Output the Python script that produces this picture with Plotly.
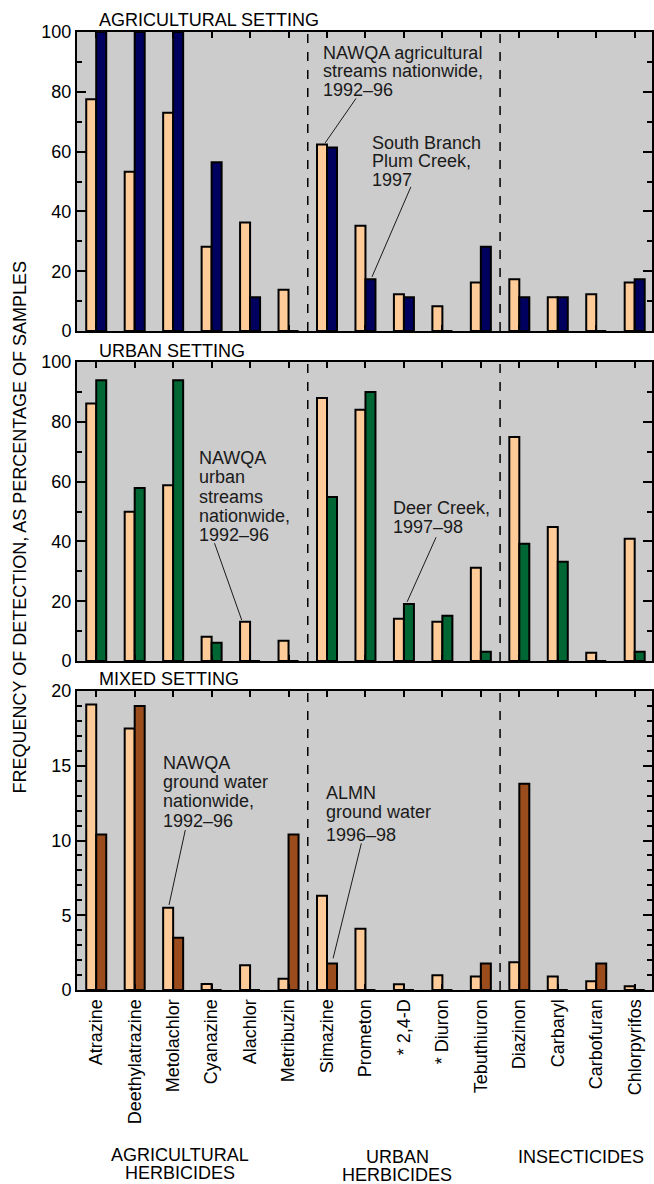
import plotly.graph_objects as go

# ---------------- data ----------------
pesticides = ["Atrazine", "Deethylatrazine", "Metolachlor", "Cyanazine", "Alachlor",
              "Metribuzin", "Simazine", "Prometon", "* 2,4-D", "* Diuron",
              "Tebuthiuron", "Diazinon", "Carbaryl", "Carbofuran", "Chlorpyrifos"]

ag_nawqa = [77.5, 53.3, 73, 28.2, 36.3, 13.8, 62.4, 35.2, 12.3, 8.3, 16.2, 17.3, 11.3, 12.3, 16.2]
ag_plum = [100, 100, 100, 56.4, 11.3, 0, 61.4, 17.3, 11.3, 0, 28.2, 11.3, 11.3, 0, 17.3]

urban_nawqa = [86.1, 49.9, 58.8, 8.1, 13.1, 6.8, 88.0, 84.0, 14.1, 13.1, 31.2, 74.9, 44.8, 2.8, 40.9]
urban_deer = [93.9, 57.9, 93.9, 6.1, 0, 0, 54.9, 90.0, 19.1, 15.1, 3.1, 39.2, 33.2, 0, 3.1]

mixed_nawqa = [19.1, 17.5, 5.5, 0.4, 1.65, 0.76, 6.3, 4.1, 0.38, 0.98, 0.9, 1.85, 0.9, 0.58, 0.25]
mixed_almn = [10.4, 19.0, 3.5, 0, 0, 10.4, 1.78, 0, 0, 0, 1.78, 13.8, 0, 1.78, 0]

panel_titles = ["AGRICULTURAL SETTING", "URBAN SETTING", "MIXED SETTING"]

# ---------------- styles ----------------
TAN = "#FFCC99"
NAVY = "#00005E"
GREEN = "#006633"
BROWN = "#9A4C1C"
BG = "#CCCCCC"
FONT = "Liberation Sans, Arial, Helvetica, sans-serif"
FS = 18
TXT = "#1a1a1a"

fig = go.Figure()

panels = [
    (ag_nawqa, ag_plum, NAVY, "x", "y"),
    (urban_nawqa, urban_deer, GREEN, "x2", "y2"),
    (mixed_nawqa, mixed_almn, BROWN, "x3", "y3"),
]
for nawqa, local, col, xa, ya in panels:
    fig.add_trace(go.Bar(x=pesticides, y=nawqa, xaxis=xa, yaxis=ya,
                         marker=dict(color=TAN, line=dict(color="black", width=2))))
    fig.add_trace(go.Bar(x=pesticides, y=local, xaxis=xa, yaxis=ya,
                         marker=dict(color=col, line=dict(color="black", width=2))))

domains = [[0.6879, 1.0], [0.3434, 0.6555], [0.0, 0.3121]]
yranges = [[0, 100], [0, 100], [0, 20]]
ydticks = [20, 20, 5]
yminor = [10, 10, 1]
XR = [-0.5, 14.45]

layout = dict(
    width=654, height=1184,
    margin=dict(l=77, r=0, t=32, b=194),
    paper_bgcolor="white", plot_bgcolor=BG,
    showlegend=False, barmode="group", bargap=0.48, bargroupgap=0,
    font=dict(family=FONT, size=FS, color="black"),
)

for i in range(3):
    sx = "" if i == 0 else str(i + 1)
    ax_x = dict(
        domain=[0, 1], anchor="y" + sx, type="category",
        categoryorder="array", categoryarray=pesticides,
        range=XR, showline=True, linecolor="black", linewidth=2, mirror="ticks",
        ticks="inside", ticklen=6, tickwidth=2, tickcolor="black",
        showgrid=False, zeroline=False,
        showticklabels=(i == 2), tickangle=-90,
        tickfont=dict(family=FONT, size=FS, color="black"),
    )
    if i < 2:
        ax_x["matches"] = "x3"
    ax_y = dict(
        domain=domains[i], anchor="x" + sx, range=yranges[i], dtick=ydticks[i], tick0=0,
        showline=True, linecolor="black", linewidth=2, mirror="ticks",
        ticks="inside", ticklen=9, tickwidth=2, tickcolor="black",
        minor=dict(ticks="inside", ticklen=5, tickwidth=2, tickcolor="black",
                   dtick=yminor[i], tick0=0),
        showgrid=False, zeroline=False,
        tickfont=dict(family=FONT, size=FS, color="black"),
    )
    layout["xaxis" + sx] = ax_x
    layout["yaxis" + sx] = ax_y

fig.update_layout(**layout)

# dashed separators between pesticide groups
for i in range(3):
    sx = "" if i == 0 else str(i + 1)
    for xv in (5.5, 10.5):
        fig.add_shape(type="line", xref="x" + sx, yref="y" + sx + " domain",
                      x0=xv, x1=xv, y0=0, y1=1,
                      line=dict(color="black", width=1.5, dash="dash"))

# panel titles
for t, yp in zip(panel_titles, [1.0125, 0.667, 0.3246]):
    fig.add_annotation(text=t, xref="paper", yref="paper", x=0.0347, y=yp,
                       xanchor="left", yanchor="middle", showarrow=False,
                       font=dict(family=FONT, size=FS, color="black"))

# y-axis title
fig.add_annotation(text="FREQUENCY OF DETECTION, AS PERCENTAGE OF SAMPLES",
                   xref="paper", yref="paper", x=-0.0988, y=0.483, textangle=-90,
                   xanchor="center", yanchor="middle", showarrow=False,
                   font=dict(family=FONT, size=FS, color="black"))

# group labels at bottom
for t, xp, yp in [("AGRICULTURAL", 0.1785, -0.1722), ("HERBICIDES", 0.1785, -0.191),
                  ("URBAN", 0.558, -0.1743), ("HERBICIDES", 0.556, -0.1931),
                  ("INSECTICIDES", 0.877, -0.1743)]:
    fig.add_annotation(text=t, xref="paper", yref="paper", x=xp, y=yp,
                       xanchor="center", yanchor="middle", showarrow=False,
                       font=dict(family=FONT, size=FS, color="black"))


def block(lines, x, ys, sx):
    for ln, yv in zip(lines, ys):
        fig.add_annotation(text=ln, xref="x" + sx, yref="y" + sx, x=x, y=yv,
                           xanchor="left", yanchor="middle", showarrow=False,
                           font=dict(family=FONT, size=FS, color=TXT))


def leader(x0, y0, x1, y1, sx):
    fig.add_shape(type="line", xref="x" + sx, yref="y" + sx, x0=x0, y0=y0, x1=x1, y1=y1,
                  line=dict(color=TXT, width=1))


# top panel labels
block(["NAWQA agricultural", "streams nationwide,", "1992–96"], 5.848, [93.0, 86.8, 80.6], "")
leader(6.755, 77.8, 5.952, 62.9, "")
block(["South Branch", "Plum Creek,", "1997"], 7.11, [62.9, 56.76, 50.6], "")
leader(8.18, 48.2, 7.17, 18.1, "")

# middle panel labels
block(["NAWQA", "urban", "streams", "nationwide,", "1992–96"], 2.609,
      [67.96, 61.44, 54.95, 48.4, 42.3], "2")
leader(3.076, 39.4, 3.783, 13.7, "2")
block(["Deer Creek,", "1997–98"], 7.653, [51.07, 44.92], "2")
leader(8.836, 41.4, 8.084, 19.8, "2")

# bottom panel labels
block(["NAWQA", "ground water", "nationwide,", "1992–96"], 1.676,
      [15.16, 13.89, 12.62, 11.28], "3")
leader(2.316, 10.7, 1.892, 5.69, "3")
block(["ALMN", "ground water", "1996–98"], 5.926, [13.16, 11.93, 10.39], "3")
leader(6.893, 9.81, 6.159, 2.12, "3")

fig.write_html("out.html", config={"displayModeBar": False},
               post_script="document.body.style.margin='0px';")
